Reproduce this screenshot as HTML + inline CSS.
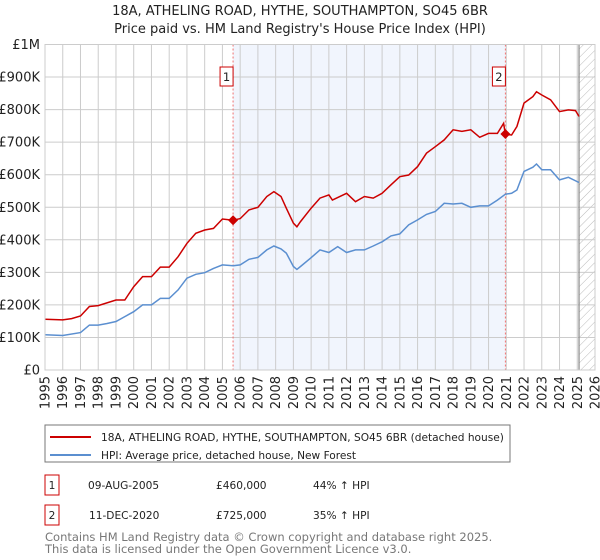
<!DOCTYPE html>
<html><head><meta charset="utf-8"><style>
body{margin:0;background:#fff;font-family:"Liberation Sans","DejaVu Sans",sans-serif;}
svg{display:block}
</style></head><body>
<svg id="chart" width="600" height="560" xmlns="http://www.w3.org/2000/svg" font-family="DejaVu Sans, Liberation Sans, sans-serif">
<defs><pattern id="hatch" width="6" height="6" patternUnits="userSpaceOnUse" patternTransform="rotate(45)"><line x1="0" y1="0" x2="0" y2="6" stroke="#bbb" stroke-width="1"/></pattern></defs>
<text x="300" y="15" font-size="13" text-anchor="middle" fill="#222">18A, ATHELING ROAD, HYTHE, SOUTHAMPTON, SO45 6BR</text>
<text x="300" y="33" font-size="13" text-anchor="middle" fill="#222">Price paid vs. HM Land Registry's House Price Index (HPI)</text>
<g id="plot"></g>
<g>
<rect x="45" y="425" width="465" height="37" fill="#fff" stroke="#777"/>
<line x1="50" y1="437" x2="91" y2="437" stroke="#cc0000" stroke-width="2"/>
<text x="101" y="441" font-size="10.6" fill="#222">18A, ATHELING ROAD, HYTHE, SOUTHAMPTON, SO45 6BR (detached house)</text>
<line x1="50" y1="455" x2="91" y2="455" stroke="#5b8fd0" stroke-width="2"/>
<text x="101" y="459" font-size="10.6" fill="#222">HPI: Average price, detached house, New Forest</text>
</g>
<g font-size="10.6" fill="#222">
<rect x="45" y="475" width="14" height="20" fill="#fff" stroke="#cc0000"/><text x="52" y="489" text-anchor="middle">1</text>
<text x="88" y="489">09-AUG-2005</text><text x="216" y="489">£460,000</text><text x="313" y="489">44% ↑ HPI</text>
<rect x="45" y="505" width="14" height="20" fill="#fff" stroke="#cc0000"/><text x="52" y="519" text-anchor="middle">2</text>
<text x="89" y="519">11-DEC-2020</text><text x="216" y="519">£725,000</text><text x="313" y="519">35% ↑ HPI</text>
</g>
<text x="45" y="541" font-size="11.5" fill="#777">Contains HM Land Registry data © Crown copyright and database right 2025.</text>
<text x="45" y="553" font-size="11.5" fill="#777">This data is licensed under the Open Government Licence v3.0.</text>
</svg>
<script>
const redYears=[1995,1996,1996.5,1997,1997.5,1998,1999,1999.5,2000,2000.5,2001,2001.5,2002,2002.5,2003,2003.5,2004,2004.5,2005,2005.6,2006,2006.5,2007,2007.5,2007.9,2008.3,2008.6,2009,2009.2,2009.4,2010,2010.5,2011,2011.2,2012,2012.5,2013,2013.5,2014,2014.5,2015,2015.5,2016,2016.5,2017,2017.5,2018,2018.5,2019,2019.5,2020,2020.5,2020.85,2020.95,2021.3,2021.6,2022,2022.5,2022.7,2023,2023.5,2024,2024.5,2024.9,2025.1];
const redValues=[156,154,158,166,195,198,215,215,256,287,287,316,316,348,389,420,430,435,464,460,465,492,500,533,548,533,497,451,440,456,497,528,538,522,543,517,533,528,543,569,594,599,625,666,686,707,738,733,738,715,727,727,758,724,722,748,820,840,855,845,830,794,799,797,779];
const blueYears=[1995,1996,1997,1997.5,1998,1998.5,1999,1999.5,2000,2000.5,2001,2001.5,2002,2002.5,2003,2003.5,2004,2004.5,2005,2005.6,2006,2006.5,2007,2007.5,2007.9,2008.3,2008.6,2009,2009.2,2009.4,2010,2010.5,2011,2011.5,2012,2012.5,2013,2013.5,2014,2014.5,2015,2015.5,2016,2016.5,2017,2017.5,2018,2018.5,2019,2019.5,2020,2020.5,2020.95,2021.3,2021.6,2022,2022.5,2022.7,2023,2023.5,2024,2024.5,2025.1];
const blueValues=[108,106,115,138,138,143,149,164,179,200,200,220,220,246,282,294,299,312,323,320,323,340,346,369,381,372,359,318,309,318,345,369,361,379,361,369,369,381,394,412,418,446,461,478,487,512,510,512,500,504,504,522,540,543,553,610,623,633,615,615,584,592,576];
const saleYears=[2005.6,2020.95];
const saleValues=[460,725];
const saleLabels=["1","2"];
const yTicks=[0,100,200,300,400,500,600,700,800,900,1000];
const yTickLabels=["£0","£100K","£200K","£300K","£400K","£500K","£600K","£700K","£800K","£900K","£1M"];
const xTicks=[1995,1996,1997,1998,1999,2000,2001,2002,2003,2004,2005,2006,2007,2008,2009,2010,2011,2012,2013,2014,2015,2016,2017,2018,2019,2020,2021,2022,2023,2024,2025,2026];
const dataEnd=2025.1;
const X0=45,X1=595,Y0=370,Y1=44.5;
const xs=y=>X0+(y-1995)/(2026-1995)*(X1-X0);
const ys=v=>Y0-v/1000*(Y0-Y1);
const NS="http://www.w3.org/2000/svg";
const g=document.getElementById('plot');
function mk(t,a,p){const e=document.createElementNS(NS,t);for(const k in a)e.setAttribute(k,a[k]);(p||g).appendChild(e);return e;}
let e;
e=mk('rect',{x:xs(saleYears[0]),y:Y1,width:xs(saleYears[1])-xs(saleYears[0]),height:Y0-Y1,fill:'#eef2fc',opacity:0.8});


e=mk('rect',{x:xs(dataEnd),y:Y1,width:X1-xs(dataEnd),height:Y0-Y1,fill:'url(#hatch)'});


yTicks.forEach((v,i)=>{
 e=mk('line',{x1:X0,x2:X1,y1:ys(v),y2:ys(v),stroke:'#ccc','stroke-width':1});
 
 
 e=mk('text',{x:X0-5,y:ys(v)+4.5,'font-size':13,'text-anchor':'end',fill:'#222'});
 e.textContent=yTickLabels[i];
 
 
});
xTicks.forEach(y=>{
 e=mk('line',{x1:xs(y),x2:xs(y),y1:Y1,y2:Y0,stroke:'#ccc','stroke-width':1});
 
 
 e=mk('text',{x:0,y:0,'font-size':13,'text-anchor':'end',fill:'#222',transform:`translate(${xs(y)+4.5},${Y0+6}) rotate(-90)`});
 e.textContent=y;
 
 
});
e=mk('line',{x1:xs(dataEnd),x2:xs(dataEnd),y1:Y1,y2:Y0,stroke:'#888','stroke-width':1.2});


saleYears.forEach((y,i)=>{
 e=mk('line',{x1:xs(y),x2:xs(y),y1:Y1,y2:Y0,stroke:'#f07070','stroke-width':1,'stroke-dasharray':'2,2'});
 
 
 e=mk('rect',{x:xs(y)-12-1,y:67,width:13,height:19,fill:'#fff',stroke:'#cc0000'});
 
 
 e=mk('text',{x:xs(y)-6.5,y:81,'font-size':11.5,'text-anchor':'middle',fill:'#222'});
 e.textContent=saleLabels[i];
 
 
});
function path(ya,va){return ya.map((y,i)=>(i?'L':'M')+xs(y).toFixed(1)+','+ys(va[i]).toFixed(1)).join('');}
e=mk('path',{d:path(blueYears,blueValues),fill:'none',stroke:'#5b8fd0','stroke-width':1.5});


e=mk('path',{d:path(redYears,redValues),fill:'none',stroke:'#cc0000','stroke-width':1.5});


saleYears.forEach((y,i)=>{
 const cx=xs(y),cy=ys(saleValues[i]);
 e=mk('path',{d:`M${cx},${cy-5}L${cx+5},${cy}L${cx},${cy+5}L${cx-5},${cy}Z`,fill:'#cc0000'});
 
 
});
e=mk('rect',{x:X0,y:Y1,width:X1-X0,height:Y0-Y1,fill:'none',stroke:'#ccc'});


</script>
</body></html>
